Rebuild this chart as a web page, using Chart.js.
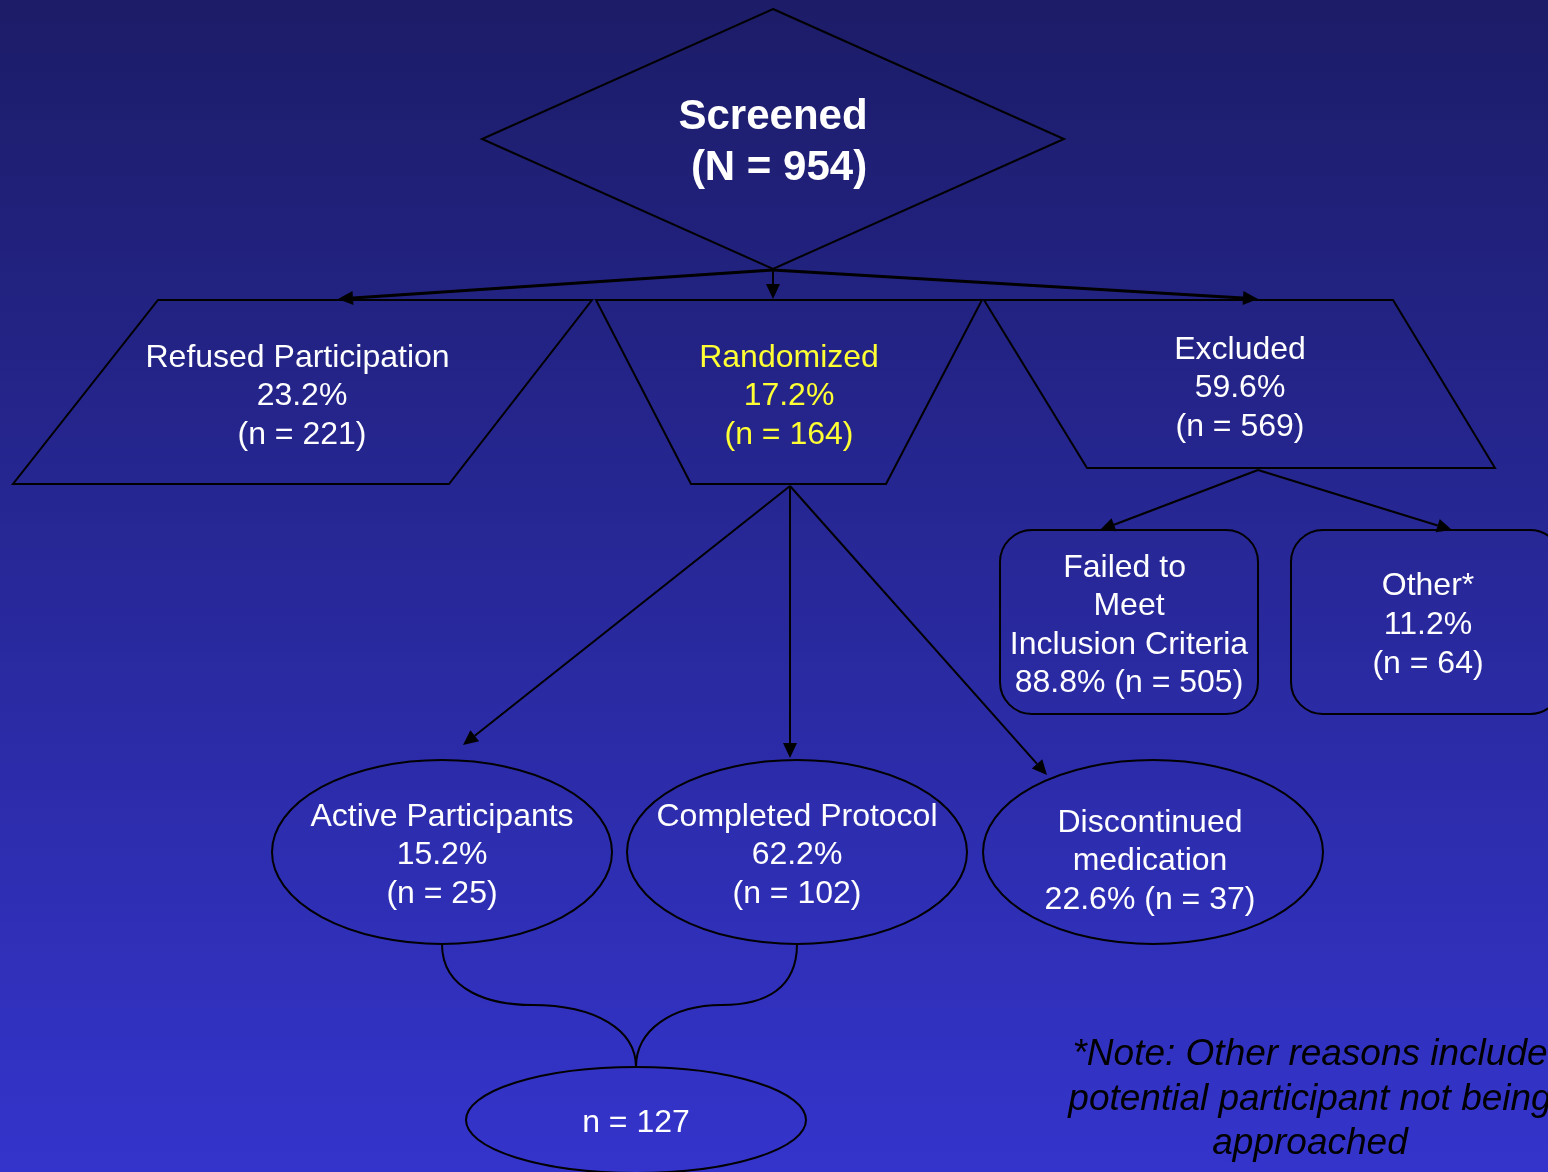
<!DOCTYPE html>
<html>
<head>
<meta charset="utf-8">
<title>Participant flow</title>
<script src="https://cdn.jsdelivr.net/npm/chart.js@4.4.1/dist/chart.umd.min.js"></script>
<style>
  html, body { margin: 0; padding: 0; background: #1c1c68; overflow: hidden; }
  #wrap { width: 1548px; height: 1172px; position: relative; }
  canvas { display: block; }
</style>
</head>
<body>
<div id="wrap"><canvas id="flow" width="1548" height="1172"></canvas></div>
<script>
// ---- Data: participant counts at each stage of the study ----
const stages = [
  'Screened',
  'Refused Participation ',
  'Randomized',
  'Excluded',
  'Failed to \nMeet\nInclusion Criteria',
  'Other*',
  'Active Participants',
  'Completed Protocol',
  'Discontinued\nmedication',
  ''
];
const counts   = [954, 221, 164, 569, 505, 64, 25, 102, 37, 127];
const percents = [null, 23.2, 17.2, 59.6, 88.8, 11.2, 15.2, 62.2, 22.6, null];
const noteLines = [
  '*Note: Other reasons include',
  'potential participant not being',
  'approached'
];

// ---- Layout (diagram units; the axes span 0..1548 by 0..1172) ----
const nodeLayout = [
  { shape: 'diamond', cx: 773, cy: 139, hw: 291, hh: 130, text: { x: 773, y: 114, gap: 51, size: 42, bold: true, style: 'screened', dx: [0, 6] } },
  { shape: 'poly', pts: [[158,300],[592,300],[449,484],[13,484]], text: { x: 302, y: 355, gap: 38.5, size: 32, style: 'stacked' } },
  { shape: 'poly', pts: [[596,300],[982,300],[886,484],[691,484]], text: { x: 789, y: 355, gap: 38.5, size: 32, style: 'stacked', color: '#ffff33' } },
  { shape: 'poly', pts: [[984,300],[1393,300],[1495,468],[1087,468]], text: { x: 1240, y: 347, gap: 38.5, size: 32, style: 'stacked' } },
  { shape: 'round', x0: 1000, y0: 530, x1: 1258, y1: 714, r: 32, text: { x: 1129, y: 565, gap: 38.5, size: 32, style: 'joined' } },
  { shape: 'round', x0: 1291, y0: 530, x1: 1562, y1: 714, r: 32, text: { x: 1428, y: 583, gap: 39, size: 32, style: 'stacked' } },
  { shape: 'ellipse', cx: 442, cy: 852, rx: 170, ry: 92, text: { x: 442, y: 814, gap: 38.5, size: 32, style: 'stacked' } },
  { shape: 'ellipse', cx: 797, cy: 852, rx: 170, ry: 92, text: { x: 797, y: 814, gap: 38.5, size: 32, style: 'stacked' } },
  { shape: 'ellipse', cx: 1153, cy: 852, rx: 170, ry: 92, text: { x: 1150, y: 820, gap: 38.5, size: 32, style: 'joined' } },
  { shape: 'ellipse', cx: 636, cy: 1120, rx: 170, ry: 53, text: { x: 636, y: 1120, gap: 0, size: 32, style: 'total' } }
];

// Arrows: [fromX, fromY, toX, toY, lineWidth]
const arrows = [
  [773, 270, 338, 299, 3],
  [773, 270, 773, 299, 2],
  [773, 270, 1258, 299, 3],
  [1258, 470, 1100, 530, 2.2],
  [1258, 470, 1452, 530, 2.2],
  [790, 486, 463, 745, 2],
  [790, 486, 790, 758, 2],
  [790, 486, 1047, 775, 2]
];

// Brace joining the two retained groups into the combined total
const braceCurves = [
  [[442, 944], [442, 992], [492, 1005], [532, 1005], [596, 1005], [636, 1030], [636, 1067]],
  [[797, 944], [797, 988], [766, 1005], [722, 1005], [672, 1005], [636, 1030], [636, 1067]]
];
const noteLayout = { x: 1310, y: 1052, gap: 44.5, size: 37 };

const FONT = '"Liberation Sans", Arial, Helvetica, sans-serif';

function nodeLines(i) {
  const style = nodeLayout[i].text.style;
  const pct = percents[i] != null ? percents[i].toFixed(1) + '%' : '';
  const n = '(n = ' + counts[i] + ')';
  if (style === 'screened') return [stages[i], '(N = ' + counts[i] + ')'];
  if (style === 'total') return ['n = ' + counts[i]];
  const name = stages[i].split('\n');
  if (style === 'joined') return name.concat([pct + ' ' + n]);
  return name.concat([pct, n]);
}

const flowPlugin = {
  id: 'flowDiagram',
  beforeDraw(chart) {
    const ctx = chart.ctx;
    const ys = chart.scales.y;
    const g = ctx.createLinearGradient(0, ys.getPixelForValue(0), 0, ys.getPixelForValue(1172));
    g.addColorStop(0, '#1c1c68');
    g.addColorStop(1, '#3434cc');
    ctx.save();
    ctx.fillStyle = g;
    ctx.fillRect(0, 0, chart.width, chart.height);
    ctx.restore();
  },
  afterDatasetsDraw(chart) {
    const ctx = chart.ctx;
    const xs = chart.scales.x, ys = chart.scales.y;
    const px = v => xs.getPixelForValue(v);
    const py = v => ys.getPixelForValue(v);
    ctx.save();
    ctx.strokeStyle = '#000';
    ctx.fillStyle = '#000';
    ctx.lineJoin = 'miter';

    // Node outlines
    nodeLayout.forEach(n => {
      ctx.beginPath();
      ctx.lineWidth = 2;
      if (n.shape === 'diamond') {
        ctx.moveTo(px(n.cx), py(n.cy - n.hh));
        ctx.lineTo(px(n.cx + n.hw), py(n.cy));
        ctx.lineTo(px(n.cx), py(n.cy + n.hh));
        ctx.lineTo(px(n.cx - n.hw), py(n.cy));
        ctx.closePath();
      } else if (n.shape === 'poly') {
        n.pts.forEach((p, k) => k ? ctx.lineTo(px(p[0]), py(p[1])) : ctx.moveTo(px(p[0]), py(p[1])));
        ctx.closePath();
      } else if (n.shape === 'round') {
        const x0 = px(n.x0), y0 = py(n.y0), x1 = px(n.x1), y1 = py(n.y1), r = n.r;
        ctx.moveTo(x0 + r, y0);
        ctx.arcTo(x1, y0, x1, y1, r);
        ctx.arcTo(x1, y1, x0, y1, r);
        ctx.arcTo(x0, y1, x0, y0, r);
        ctx.arcTo(x0, y0, x1, y0, r);
        ctx.closePath();
      } else if (n.shape === 'ellipse') {
        const rx = px(n.cx + n.rx) - px(n.cx);
        const ry = py(n.cy + n.ry) - py(n.cy);
        ctx.ellipse(px(n.cx), py(n.cy), rx, ry, 0, 0, Math.PI * 2);
      }
      ctx.stroke();
    });

    // Arrows with filled heads
    arrows.forEach(a => {
      const x0 = px(a[0]), y0 = py(a[1]), x1 = px(a[2]), y1 = py(a[3]);
      const ang = Math.atan2(y1 - y0, x1 - x0);
      const L = 15, W = 7;
      const bx = x1 - L * Math.cos(ang), by = y1 - L * Math.sin(ang);
      ctx.lineWidth = a[4];
      ctx.beginPath();
      ctx.moveTo(x0, y0);
      ctx.lineTo(bx, by);
      ctx.stroke();
      ctx.beginPath();
      ctx.moveTo(x1, y1);
      ctx.lineTo(bx + W * Math.sin(ang), by - W * Math.cos(ang));
      ctx.lineTo(bx - W * Math.sin(ang), by + W * Math.cos(ang));
      ctx.closePath();
      ctx.fill();
    });

    // Joining brace
    ctx.lineWidth = 2;
    braceCurves.forEach(c => {
      ctx.beginPath();
      ctx.moveTo(px(c[0][0]), py(c[0][1]));
      ctx.bezierCurveTo(px(c[1][0]), py(c[1][1]), px(c[2][0]), py(c[2][1]), px(c[3][0]), py(c[3][1]));
      ctx.bezierCurveTo(px(c[4][0]), py(c[4][1]), px(c[5][0]), py(c[5][1]), px(c[6][0]), py(c[6][1]));
      ctx.stroke();
    });

    // Node labels
    ctx.textAlign = 'center';
    ctx.textBaseline = 'alphabetic';
    nodeLayout.forEach((n, i) => {
      const t = n.text;
      ctx.font = (t.bold ? 'bold ' : '') + t.size + 'px ' + FONT;
      ctx.fillStyle = t.color || '#ffffff';
      nodeLines(i).forEach((line, k) => {
        const dx = t.dx ? t.dx[k] : 0;
        ctx.fillText(line, px(t.x + dx), py(t.y + k * t.gap) + t.size * 0.36);
      });
    });

    // Footnote
    ctx.fillStyle = '#000';
    ctx.font = 'italic ' + noteLayout.size + 'px ' + FONT;
    noteLines.forEach((line, k) => {
      ctx.fillText(line, px(noteLayout.x), py(noteLayout.y + k * noteLayout.gap) + noteLayout.size * 0.36);
    });
    ctx.restore();
  }
};

new Chart(document.getElementById('flow'), {
  type: 'scatter',
  data: {
    datasets: [{
      label: 'Stages',
      data: nodeLayout.map(n => ({ x: n.cx !== undefined ? n.cx : n.text.x, y: n.cy !== undefined ? n.cy : n.text.y })),
      pointRadius: 0,
      pointHoverRadius: 0
    }]
  },
  options: {
    responsive: false,
    animation: false,
    events: [],
    layout: { padding: 0 },
    scales: {
      x: { type: 'linear', min: 0, max: 1548, display: false },
      y: { type: 'linear', min: 0, max: 1172, reverse: true, display: false }
    },
    plugins: { legend: { display: false }, tooltip: { enabled: false } }
  },
  plugins: [flowPlugin]
});
</script>
</body>
</html>
